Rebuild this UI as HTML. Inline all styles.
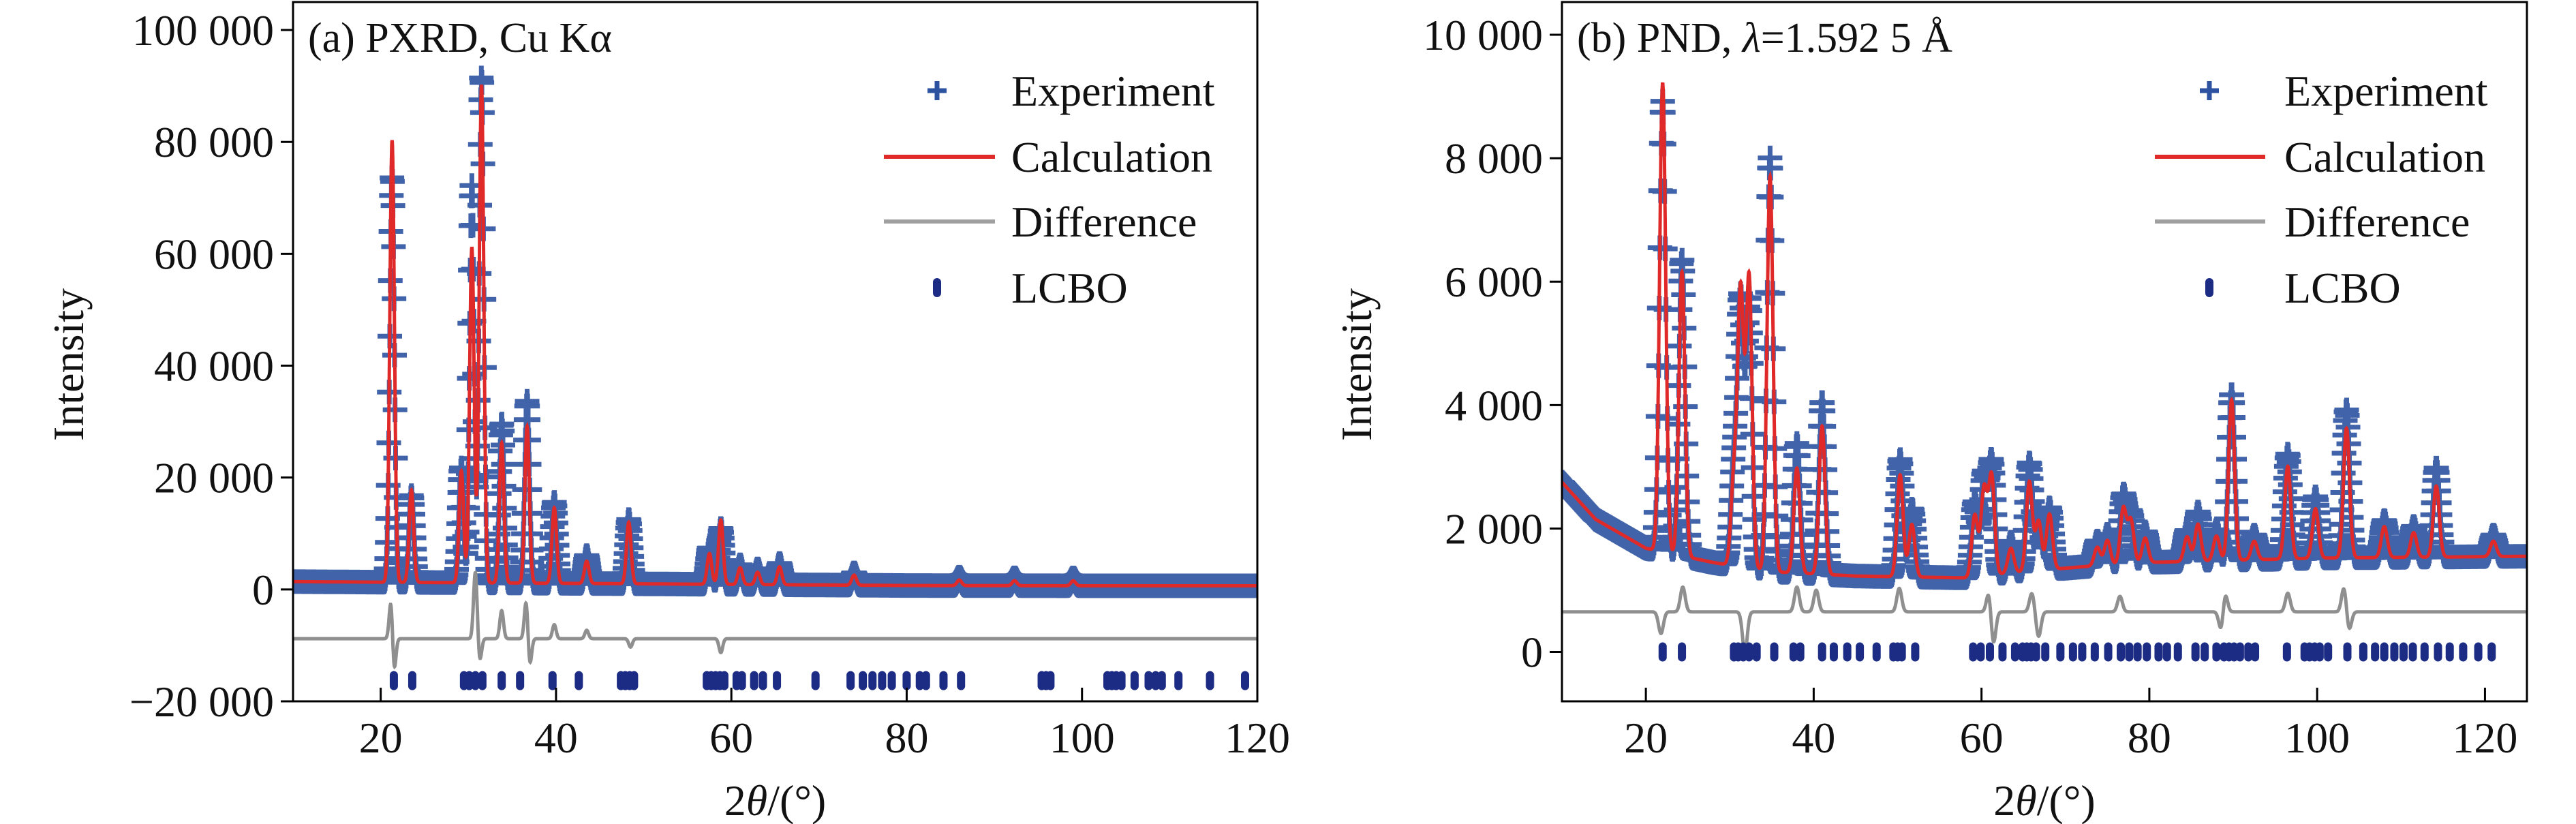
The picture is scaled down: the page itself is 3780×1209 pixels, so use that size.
<!DOCTYPE html>
<html><head><meta charset="utf-8"><style>
html,body{margin:0;padding:0;background:#fff;}
svg{display:block;font-family:"Liberation Serif",serif;}
</style></head><body>
<svg id="fig" width="3780" height="1209" viewBox="0 0 3780 1209" xmlns="http://www.w3.org/2000/svg"></svg>
<script>
// ---------- Panel (a) PXRD data ----------
const aPeakPos  = [21.3,23.5,29.2,30.4,31.5,33.8,36.7,39.8,43.5,48.3,57.5,58.8,61.0,63.0,65.5,74.0,86.0,92.3,99.0];
const aCalcH    = [79000,16500,20000,60000,89000,25000,28000,13500,4000,11000,5500,11500,3000,2200,3200,1800,1000,900,900];
const aObsH     = [72500,15500,20500,71000,90500,28500,32500,14500,5000,11500,6500,10000,3500,2800,3800,2200,1500,1400,1400];
const aBgX      = [10,20,40,60,80,100,120];
const aBgY      = [1400,1300,1100,900,700,650,650];
const aDiffBase = -8800;
const aDiffPos  = [21.2,21.5,30.8,31.3,33.8,36.6,37.0,39.8,43.5,48.5,58.8];
const aDiffAmp  = [8000,-7000,12000,-4000,5000,7000,-5000,2500,1500,-1500,-2500];
const aTicks    = [21.5,23.6,29.5,30.1,30.8,31.6,33.8,35.9,39.6,42.6,47.4,47.9,48.4,48.9,57.2,57.7,58.2,58.7,59.2,60.6,61.2,62.6,63.6,65.2,69.6,73.6,75.0,76.1,77.2,78.3,80.0,81.5,82.2,84.2,86.2,95.4,95.9,96.4,102.9,103.4,103.9,104.5,106.0,107.6,108.4,109.1,111.0,114.6,118.6];
const aYTicks   = [-20000,0,20000,40000,60000,80000,100000];
const aYLabels  = ["\u221220 000","0","20 000","40 000","60 000","80 000","100 000"];
const aXTicks   = [20,40,60,80,100,120];

// ---------- Panel (b) PND data ----------
const bPeakPos  = [22.0,24.3,30.5,31.3,32.3,34.8,38.0,41.0,50.3,51.7,59.2,60.3,61.2,63.5,65.7,66.8,68.1,73.8,75.0,76.9,77.8,79.5,84.5,85.8,88.0,89.8,92.5,96.5,99.8,103.5,108.0,111.5,114.2,121.0];
const bCalcH    = [7600,4600,1400,4400,4700,6400,1700,2400,1650,850,1000,1400,1600,400,1450,800,900,300,400,900,700,400,400,600,400,2600,300,1500,800,2100,500,400,1150,250];
const bObsH     = [7300,4800,1600,4200,4300,6700,2100,2800,1900,1100,1200,1600,1800,500,1750,900,1000,400,500,1100,800,500,500,800,500,2700,400,1700,1000,2400,600,500,1450,350];
const bBgX      = [10,14,20,28,35,45,58,65,72,80,100,125];
const bBgY      = [2750,2150,1680,1450,1300,1230,1200,1300,1380,1450,1520,1550];
const bDiffBase = 650;
const bDiffPos  = [21.8,24.4,31.8,38.0,40.3,50.2,60.9,61.4,66.0,66.8,76.5,88.6,89.0,96.5,103.2,103.8];
const bDiffAmp  = [-350,400,-650,400,350,380,350,-550,300,-400,250,-350,350,300,400,-300];
const bTicks    = [22.0,24.3,30.5,31.0,31.6,32.3,33.2,35.3,37.6,38.4,41.0,42.4,44.0,45.5,47.5,49.5,50.0,50.5,52.1,59.0,59.9,61.0,62.5,64.0,64.9,65.4,65.9,66.5,67.6,69.4,70.9,72.0,73.5,75.1,76.6,77.6,78.6,79.7,81.1,82.1,83.4,85.5,86.6,88.0,88.9,89.5,90.1,90.8,91.8,92.6,96.4,98.5,99.1,99.7,100.3,101.3,103.6,105.5,106.9,108.0,109.2,110.3,111.4,112.8,114.4,115.8,117.4,119.2,120.8];
const bYTicks   = [0,2000,4000,6000,8000,10000];
const bYLabels  = ["0","2 000","4 000","6 000","8 000","10 000"];
const bXTicks   = [20,40,60,80,100,120];

const NS = "http://www.w3.org/2000/svg";
const svg = document.getElementById("fig");
function mk(tag, attrs, parent){
  const e = document.createElementNS(NS, tag);
  for (const k in attrs) e.setAttribute(k, attrs[k]);
  (parent||svg).appendChild(e);
  return e;
}
function interp(xs, ys, x){
  if (x <= xs[0]) return ys[0];
  for (let i=1;i<xs.length;i++){ if (x <= xs[i]) { const t=(x-xs[i-1])/(xs[i]-xs[i-1]); return ys[i-1]+t*(ys[i]-ys[i-1]); } }
  return ys[ys.length-1];
}
function profile(x, pos, h, sig){
  let s=0;
  for (let i=0;i<pos.length;i++){ const d=(x-pos[i])/sig; if (Math.abs(d)<6) s+=h[i]*Math.exp(-0.5*d*d); }
  return s;
}

function panel(cfg){
  const g = mk("g", {});
  
  
  const sx = v => cfg.L + (v - cfg.x0)/(cfg.x1 - cfg.x0)*(cfg.R - cfg.L);
  const sy = v => cfg.B - (v - cfg.y0)/(cfg.y1 - cfg.y0)*(cfg.B - cfg.T);
  const clipId = cfg.name + "-clip";
  const cp = mk("clipPath", {id: clipId}, g);
  mk("rect", {x: cfg.L, y: cfg.T, width: cfg.R-cfg.L, height: cfg.B-cfg.T}, cp);
  const plot = mk("g", {"clip-path": "url(#"+clipId+")"}, g);
  
  

  let d = "";
  const m = cfg.mk;
  for (let x=cfg.x0; x<=cfg.x1; x+=cfg.step){
    const y = interp(cfg.bgX,cfg.bgY,x) + profile(x,cfg.pos,cfg.obsH,cfg.sig);
    const px=sx(x), py=sy(y);
    d += "M"+(px-m).toFixed(1)+" "+py.toFixed(1)+"h"+(2*m)+"M"+px.toFixed(1)+" "+(py-m).toFixed(1)+"v"+(2*m);
  }
  const exp = mk("path", {d:d, stroke:"#2c52a0", "stroke-width":7, fill:"none", opacity:0.9}, plot);
  
  

  let c = "";
  for (let x=cfg.x0; x<=cfg.x1+0.001; x+=0.02){
    const y = interp(cfg.bgX,cfg.bgY,x) + profile(x,cfg.pos,cfg.calcH,cfg.sig);
    c += (c?"L":"M")+sx(x).toFixed(1)+" "+sy(y).toFixed(1);
  }
  const calc = mk("path", {d:c, stroke:"#e02a2a", "stroke-width":5, fill:"none"}, plot);
  
  

  let df = "";
  for (let x=cfg.x0; x<=cfg.x1+0.001; x+=0.02){
    const y = cfg.diffBase + profile(x,cfg.dPos,cfg.dAmp,cfg.sig*0.8);
    df += (df?"L":"M")+sx(x).toFixed(1)+" "+sy(y).toFixed(1);
  }
  const dif = mk("path", {d:df, stroke:"#8f8f8f", "stroke-width":5, fill:"none"}, plot);
  
  

  cfg.ticks.forEach(t=>{
    const e = mk("rect", {x: sx(t)-6, y: sy(cfg.tickY)-14, width:12, height:28, rx:6, fill:"#1c2c84"}, plot);
    
    
  });

  const box = mk("rect", {x:cfg.L, y:cfg.T, width:cfg.R-cfg.L, height:cfg.B-cfg.T, fill:"none", stroke:"#000", "stroke-width":3}, g);
  
  

  cfg.yTicks.forEach((v,i)=>{
    mk("line", {x1:cfg.L-18, x2:cfg.L, y1:sy(v), y2:sy(v), stroke:"#000", "stroke-width":3}, g);
    const t = mk("text", {x:cfg.L-28, y:sy(v)+22, "text-anchor":"end", "font-size":64, fill:"#111"}, g);
    t.textContent = cfg.yLabels[i];
    
    
  });
  cfg.xTicks.forEach(v=>{
    mk("line", {x1:sx(v), x2:sx(v), y1:cfg.B, y2:cfg.B-20, stroke:"#000", "stroke-width":3}, g);
    const t = mk("text", {x:sx(v), y:1104, "text-anchor":"middle", "font-size":64, fill:"#111"}, g);
    t.textContent = v;
    
    
  });
  const xt = mk("text", {x:(cfg.L+cfg.R)/2, y:1196, "text-anchor":"middle", "font-size":64, fill:"#111"}, g);
  xt.innerHTML = '2<tspan font-style="italic">θ</tspan>/(°)';
  
  
  const yt = mk("text", {x:0, y:0, "text-anchor":"middle", "font-size":64, fill:"#111", transform:"translate("+(cfg.ylabX)+",535) rotate(-90)"}, g);
  yt.textContent = "Intensity";
  
  
  const pt = mk("text", {x:cfg.L+22, y:76, "font-size":62, fill:"#111"}, g);
  pt.innerHTML = cfg.title;
  
  

  const lg = mk("g", {}, g);
  
  
  const rows = [["Experiment",133],["Calculation",230],["Difference",325],["LCBO",422]];
  rows.forEach(([lab,y],i)=>{
    const e = mk("g", {}, lg);
    
    
    if (i===0){ mk("path", {d:"M"+(cfg.legM-14)+" "+y+"h28M"+cfg.legM+" "+(y-14)+"v28", stroke:"#2c52a0","stroke-width":7}, e); }
    if (i===1){ mk("line", {x1:cfg.legL0,x2:cfg.legL1,y1:y,y2:y,stroke:"#e02a2a","stroke-width":6}, e); }
    if (i===2){ mk("line", {x1:cfg.legL0,x2:cfg.legL1,y1:y,y2:y,stroke:"#a0a0a0","stroke-width":6}, e); }
    if (i===3){ mk("rect", {x:cfg.legM-6,y:y-14,width:12,height:28,rx:6,fill:"#1c2c84"}, e); }
    const t = mk("text", {x:cfg.legT, y:y+22, "font-size":64, fill:"#111"}, e);
    t.textContent = lab;
  });
}

panel({name:"panel-a-pxrd", L:430, R:1845, T:3, B:1029, x0:10, x1:120, y0:-20000, y1:105000,
  pos:aPeakPos, calcH:aCalcH, obsH:aObsH, bgX:aBgX, bgY:aBgY, sig:0.26, step:0.06, mk:18,
  diffBase:aDiffBase, dPos:aDiffPos, dAmp:aDiffAmp, ticks:aTicks, tickY:-16300,
  yTicks:aYTicks, yLabels:aYLabels, xTicks:aXTicks, ylabX:122,
  title:"(a) PXRD, Cu Kα", legM:1375, legT:1484, legL0:1297, legL1:1460});

panel({name:"panel-b-pnd", L:2292, R:3708, T:3, B:1029, x0:10, x1:125, y0:-800, y1:10530,
  pos:bPeakPos, calcH:bCalcH, obsH:bObsH, bgX:bBgX, bgY:bBgY, sig:0.36, step:0.08, mk:18,
  diffBase:bDiffBase, dPos:bDiffPos, dAmp:bDiffAmp, ticks:bTicks, tickY:0,
  yTicks:bYTicks, yLabels:bYLabels, xTicks:bXTicks, ylabX:2012,
  title:'(b) PND, <tspan font-style="italic">λ</tspan>=1.592 5 Å', legM:3242, legT:3352, legL0:3162, legL1:3324});
</script>
</body></html>
